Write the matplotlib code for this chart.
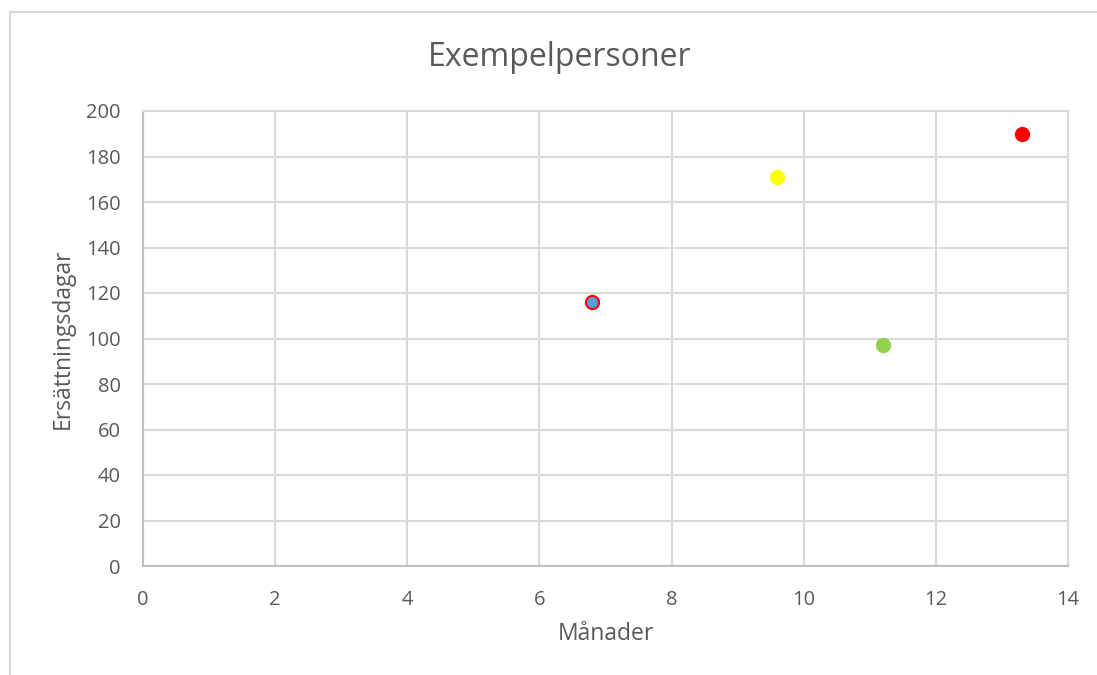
import matplotlib
matplotlib.use("Agg")
import matplotlib.pyplot as plt
from matplotlib.patches import Rectangle

plt.rcParams['font.family'] = ['Open Sans', 'DejaVu Sans']

# data
manader = [6.8, 9.6, 11.2, 13.3]
dagar = [116, 171, 97, 190]
fyll = ['#5b9bd5', '#ffff00', '#92d050', '#ff0000']
kant = ['#ff0000', '#ffff00', '#92d050', '#ff0000']

x_ticks = [0, 2, 4, 6, 8, 10, 12, 14]
y_ticks = [0, 20, 40, 60, 80, 100, 120, 140, 160, 180, 200]

fig = plt.figure(figsize=(10.97, 6.75), dpi=100)
ax = fig.add_axes([143/1097, 109/675, 925/1097, 455/675])

# outer chart frame like Excel
fig.patches.append(Rectangle((10/1097, -0.1), 1.2, 1 - 12/675 + 0.1,
                             transform=fig.transFigure, fill=False,
                             edgecolor='#d9d9d9', linewidth=1.5))

for xi, yi, f, k in zip(manader, dagar, fyll, kant):
    ax.scatter(xi, yi, s=90, color=f, edgecolors=k, linewidths=1.5, zorder=3)

ax.set_xlim(0, 14)
ax.set_ylim(0, 200)
ax.set_xticks(x_ticks)
ax.set_yticks(y_ticks)
ax.grid(True, color='#d9d9d9', linewidth=1.5)
ax.set_axisbelow(True)
for s in ax.spines.values():
    s.set_color('#d9d9d9')
    s.set_linewidth(1.5)
ax.spines['left'].set_color('#bfbfbf')
ax.spines['bottom'].set_color('#bfbfbf')
ax.tick_params(length=0, labelsize=14.5, colors='#595959')
ax.tick_params(axis='x', pad=17)
ax.tick_params(axis='y', pad=16)

fig.text(560/1097, 1 - 57/675, 'Exempelpersoner', fontsize=23, color='#595959',
         ha='center', va='center')
ax.set_xlabel('Månader', fontsize=16.5, color='#595959', labelpad=9)
ax.set_ylabel('Ersättningsdagar', fontsize=16.5, color='#595959', labelpad=8)

fig.savefig('out.png', dpi=100)
